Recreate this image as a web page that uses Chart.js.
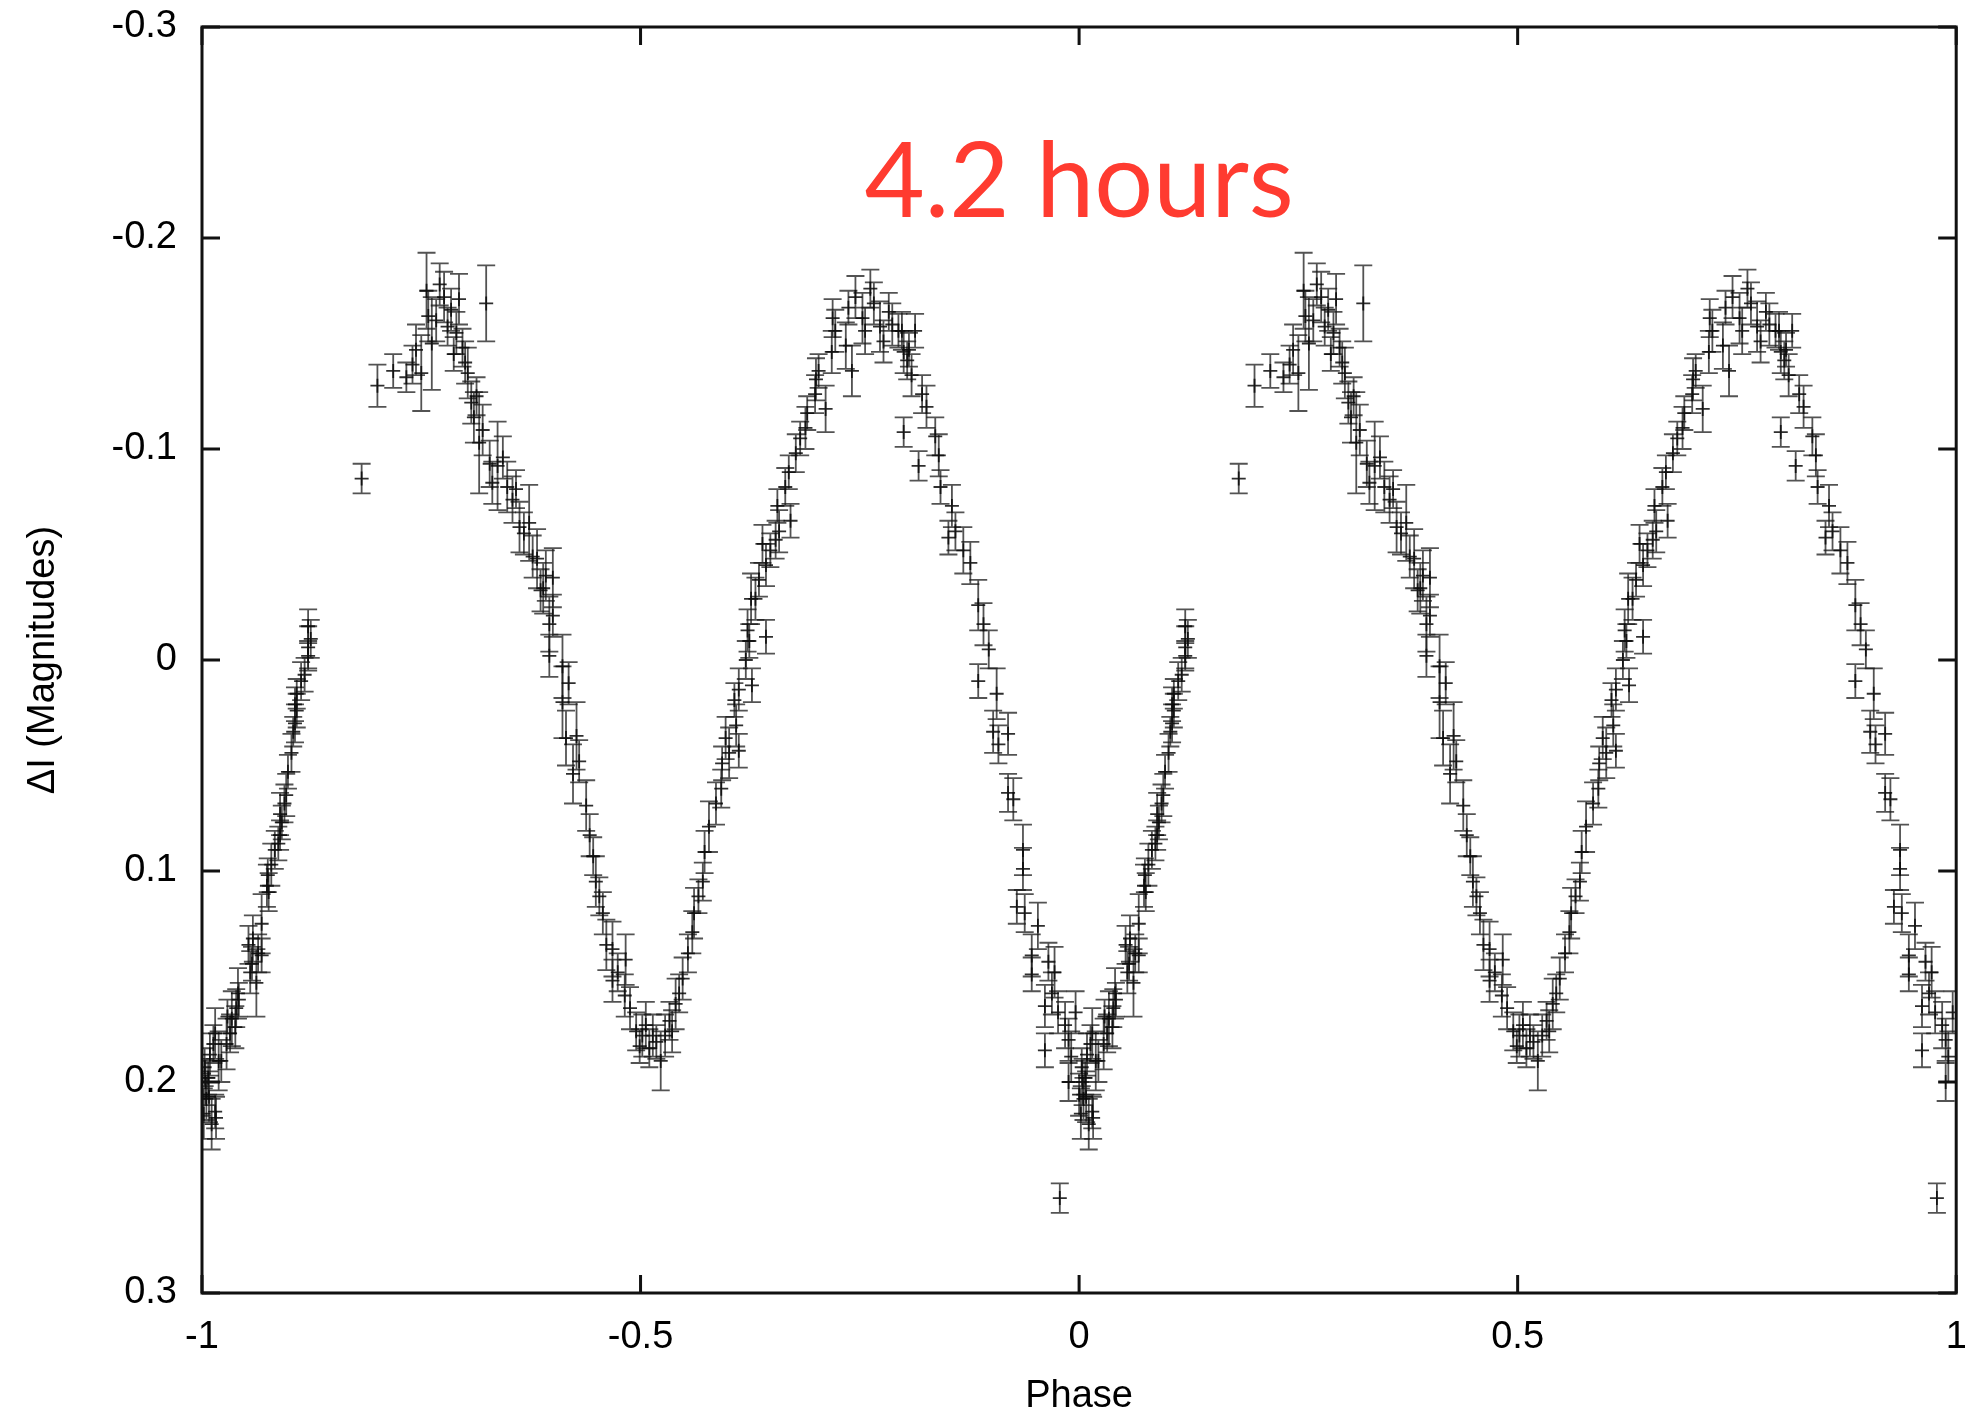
<!DOCTYPE html>
<html>
<head>
<meta charset="utf-8">
<script src="https://cdn.jsdelivr.net/npm/chart.js@4.4.1/dist/chart.umd.min.js"></script>
<style>
  html, body { margin: 0; padding: 0; background: #fff; }
  #wrap { width: 1965px; height: 1414px; }
</style>
</head>
<body>
<div id="wrap"><canvas id="lightcurve"></canvas></div>
<script>
// phased light curve, one cycle (phase 0..1)
const phase = [
  0.000, 0.002, 0.003, 0.004, 0.005, 0.007, 0.008, 0.009, 0.011, 0.013,
  0.015, 0.015, 0.016, 0.019, 0.022, 0.028, 0.029, 0.032, 0.034, 0.038,
  0.039, 0.041, 0.042, 0.053, 0.055, 0.057, 0.058, 0.062, 0.064, 0.068,
  0.068, 0.074, 0.075, 0.076, 0.079, 0.083, 0.087, 0.089, 0.089, 0.091,
  0.094, 0.096, 0.098, 0.102, 0.104, 0.106, 0.106, 0.108, 0.108, 0.113,
  0.117, 0.121, 0.121, 0.121, 0.124, 0.182, 0.200, 0.218, 0.233, 0.240,
  0.244, 0.250, 0.256, 0.258, 0.262, 0.267, 0.271, 0.276, 0.280, 0.284,
  0.287, 0.290, 0.293, 0.297, 0.300, 0.303, 0.307, 0.310, 0.313, 0.316,
  0.320, 0.324, 0.328, 0.331, 0.337, 0.343, 0.348, 0.354, 0.358, 0.362,
  0.367, 0.373, 0.377, 0.382, 0.386, 0.389, 0.392, 0.396, 0.396, 0.400,
  0.400, 0.411, 0.411, 0.415, 0.418, 0.423, 0.427, 0.430, 0.438, 0.442,
  0.446, 0.449, 0.453, 0.457, 0.461, 0.468, 0.468, 0.474, 0.482, 0.483,
  0.488, 0.495, 0.499, 0.502, 0.506, 0.510, 0.514, 0.518, 0.523, 0.528,
  0.533, 0.536, 0.540, 0.544, 0.548, 0.554, 0.559, 0.561, 0.566, 0.571,
  0.573, 0.578, 0.586, 0.592, 0.593, 0.597, 0.601, 0.607, 0.609, 0.612,
  0.612, 0.620, 0.622, 0.624, 0.626, 0.627, 0.631, 0.635, 0.639, 0.643,
  0.643, 0.648, 0.654, 0.656, 0.658, 0.665, 0.669, 0.671, 0.677, 0.682,
  0.688, 0.690, 0.699, 0.700, 0.703, 0.711, 0.718, 0.719, 0.722, 0.734,
  0.737, 0.741, 0.745, 0.753, 0.756, 0.762, 0.766, 0.773, 0.777, 0.783,
  0.787, 0.794, 0.798, 0.800, 0.800, 0.804, 0.806, 0.809, 0.813, 0.817,
  0.821, 0.826, 0.836, 0.840, 0.842, 0.851, 0.855, 0.859, 0.868, 0.876,
  0.885, 0.885, 0.891, 0.897, 0.902, 0.906, 0.908, 0.919, 0.919, 0.925,
  0.929, 0.936, 0.936, 0.938, 0.946, 0.946, 0.953, 0.961, 0.961, 0.965,
  0.969, 0.972, 0.976, 0.978, 0.984, 0.988, 0.988, 0.991, 0.996
];
const deltaI = [
  0.206, 0.215, 0.193, 0.200, 0.208, 0.198, 0.207, 0.187, 0.220, 0.182,
  0.177, 0.214, 0.217, 0.190, 0.190, 0.182, 0.169, 0.177, 0.170, 0.174,
  0.165, 0.158, 0.161, 0.135, 0.148, 0.144, 0.132, 0.153, 0.139, 0.125,
  0.140, 0.107, 0.102, 0.110, 0.097, 0.090, 0.087, 0.073, 0.083, 0.077,
  0.068, 0.064, 0.053, 0.044, 0.034, 0.021, 0.030, 0.016, 0.024, 0.010,
  0.007, -0.006, -0.002, -0.016, -0.010, -0.086, -0.130, -0.137, -0.134, -0.140,
  -0.147, -0.136, -0.175, -0.163, -0.150, -0.161, -0.178, -0.172, -0.158, -0.166,
  -0.145, -0.155, -0.171, -0.148, -0.141, -0.136, -0.122, -0.115, -0.125, -0.103,
  -0.109, -0.169, -0.093, -0.084, -0.092, -0.096, -0.082, -0.076, -0.081, -0.063,
  -0.060, -0.065, -0.049, -0.048, -0.033, -0.034, -0.040, -0.017, -0.002, -0.021,
  -0.039, 0.003, 0.020, 0.037, 0.011, 0.054, 0.036, 0.048, 0.069, 0.083,
  0.093, 0.105, 0.112, 0.120, 0.135, 0.137, 0.152, 0.148, 0.159, 0.142,
  0.165, 0.176, 0.183, 0.178, 0.173, 0.184, 0.178, 0.181, 0.190, 0.178,
  0.171, 0.176, 0.163, 0.158, 0.151, 0.139, 0.129, 0.120, 0.112, 0.105,
  0.091, 0.079, 0.068, 0.061, 0.049, 0.037, 0.044, 0.019, 0.031, 0.043,
  0.014, 0.000, -0.014, -0.009, -0.029, 0.012, -0.029, -0.038, -0.055, -0.011,
  -0.045, -0.052, -0.057, -0.073, -0.061, -0.082, -0.089, -0.066, -0.098, -0.105,
  -0.110, -0.117, -0.126, -0.133, -0.137, -0.119, -0.146, -0.162, -0.156, -0.149,
  -0.167, -0.137, -0.172, -0.162, -0.156, -0.176, -0.169, -0.158, -0.151, -0.165,
  -0.159, -0.156, -0.156, -0.146, -0.108, -0.142, -0.147, -0.135, -0.156, -0.092,
  -0.126, -0.120, -0.106, -0.097, -0.082, -0.058, -0.073, -0.061, -0.052, -0.046,
  -0.026, 0.010, -0.017, -0.005, 0.034, 0.016, 0.040, 0.035, 0.063, 0.066,
  0.117, 0.090, 0.099, 0.120, 0.140, 0.149, 0.126, 0.164, 0.185, 0.143,
  0.158, 0.148, 0.167, 0.255, 0.173, 0.180, 0.200, 0.188, 0.167
];
const sigma = [
  0.010, 0.012, 0.009, 0.011, 0.010, 0.008, 0.012, 0.010, 0.012, 0.009,
  0.012, 0.008, 0.010, 0.014, 0.010, 0.012, 0.008, 0.009, 0.013, 0.010,
  0.009, 0.012, 0.008, 0.009, 0.010, 0.008, 0.011, 0.016, 0.009, 0.014,
  0.008, 0.010, 0.008, 0.009, 0.010, 0.009, 0.008, 0.010, 0.007, 0.008,
  0.009, 0.010, 0.008, 0.009, 0.007, 0.008, 0.009, 0.007, 0.008, 0.009,
  0.008, 0.010, 0.007, 0.008, 0.009, 0.007, 0.010, 0.008, 0.007, 0.009,
  0.012, 0.018, 0.018, 0.012, 0.022, 0.010, 0.010, 0.012, 0.009, 0.010,
  0.008, 0.010, 0.012, 0.009, 0.010, 0.012, 0.010, 0.012, 0.009, 0.024,
  0.012, 0.018, 0.011, 0.010, 0.021, 0.010, 0.012, 0.011, 0.009, 0.012,
  0.010, 0.018, 0.010, 0.014, 0.010, 0.012, 0.012, 0.013, 0.010, 0.010,
  0.014, 0.015, 0.017, 0.013, 0.010, 0.014, 0.016, 0.010, 0.012, 0.010,
  0.009, 0.012, 0.009, 0.010, 0.012, 0.013, 0.010, 0.009, 0.010, 0.012,
  0.010, 0.009, 0.008, 0.010, 0.011, 0.009, 0.010, 0.008, 0.014, 0.010,
  0.009, 0.010, 0.012, 0.009, 0.010, 0.009, 0.010, 0.012, 0.008, 0.009,
  0.010, 0.012, 0.010, 0.009, 0.008, 0.010, 0.012, 0.008, 0.010, 0.008,
  0.010, 0.009, 0.010, 0.008, 0.012, 0.008, 0.010, 0.008, 0.009, 0.008,
  0.010, 0.008, 0.009, 0.008, 0.010, 0.009, 0.008, 0.008, 0.009, 0.008,
  0.010, 0.008, 0.009, 0.010, 0.008, 0.011, 0.010, 0.009, 0.010, 0.011,
  0.008, 0.012, 0.010, 0.012, 0.011, 0.009, 0.010, 0.012, 0.010, 0.009,
  0.010, 0.008, 0.009, 0.010, 0.007, 0.009, 0.008, 0.010, 0.008, 0.007,
  0.009, 0.010, 0.009, 0.010, 0.008, 0.008, 0.010, 0.009, 0.011, 0.010,
  0.012, 0.008, 0.010, 0.009, 0.010, 0.012, 0.009, 0.010, 0.009, 0.010,
  0.008, 0.012, 0.010, 0.009, 0.010, 0.008, 0.011, 0.010, 0.008, 0.009,
  0.010, 0.012, 0.010, 0.007, 0.011, 0.010, 0.009, 0.012, 0.010
];

const xTickLabels = ['-1', '-0.5', '0', '0.5', '1'];
const yTickLabels = ['-0.3', '-0.2', '-0.1', '0', '0.1', '0.2', '0.3'];
const periodLabel = '4.2 hours';

const axisFont = { family: "'Liberation Sans', Arial, Helvetica, sans-serif", size: 38 };

// the folded data is shown twice, over [-1, 0) and [0, 1)
const points = [];
for (let i = 0; i < phase.length; i++) {
  points.push({ x: phase[i] - 1, y: deltaI[i], err: sigma[i] });
  points.push({ x: phase[i], y: deltaI[i], err: sigma[i] });
}

const errorBars = {
  id: 'errorBars',
  beforeDatasetsDraw(chart) {
    const ctx = chart.ctx;
    const yScale = chart.scales.y;
    const area = chart.chartArea;
    const meta = chart.getDatasetMeta(0);
    ctx.save();
    ctx.beginPath();
    ctx.rect(area.left, area.top, area.right - area.left, area.bottom - area.top);
    ctx.clip();
    ctx.strokeStyle = 'rgba(25, 25, 25, 0.75)';
    ctx.lineWidth = 1.8;
    meta.data.forEach((el, i) => {
      const p = points[i];
      const top = yScale.getPixelForValue(p.y - p.err);
      const bot = yScale.getPixelForValue(p.y + p.err);
      ctx.beginPath();
      ctx.moveTo(el.x, top);
      ctx.lineTo(el.x, bot);
      ctx.moveTo(el.x - 9, top);
      ctx.lineTo(el.x + 9, top);
      ctx.moveTo(el.x - 9, bot);
      ctx.lineTo(el.x + 9, bot);
      ctx.stroke();
    });
    ctx.restore();
  }
};

// box around the plot with inward ticks, and the period label
const frame = {
  id: 'frame',
  afterDraw(chart) {
    const { ctx, chartArea: a } = chart;
    const x = chart.scales.x, y = chart.scales.y;
    ctx.save();
    ctx.strokeStyle = '#111';
    ctx.lineWidth = 3;
    ctx.strokeRect(a.left, a.top, a.right - a.left, a.bottom - a.top);
    ctx.beginPath();
    x.ticks.forEach(t => {
      const px = x.getPixelForValue(t.value);
      ctx.moveTo(px, a.bottom);
      ctx.lineTo(px, a.bottom - 18);
      ctx.moveTo(px, a.top);
      ctx.lineTo(px, a.top + 18);
    });
    y.ticks.forEach(t => {
      const py = y.getPixelForValue(t.value);
      ctx.moveTo(a.left, py);
      ctx.lineTo(a.left + 18, py);
      ctx.moveTo(a.right, py);
      ctx.lineTo(a.right - 18, py);
    });
    ctx.stroke();

    ctx.fillStyle = 'rgb(255, 59, 48)';
    ctx.font = '104px Lato, "Open Sans", sans-serif';
    ctx.textAlign = 'center';
    ctx.textBaseline = 'alphabetic';
    ctx.fillText(periodLabel, x.getPixelForValue(0), y.getPixelForValue(-0.21));
    ctx.restore();
  }
};

new Chart(document.getElementById('lightcurve'), {
  type: 'scatter',
  data: {
    datasets: [{
      data: points,
      pointStyle: 'cross',
      pointRadius: 7,
      pointHoverRadius: 7,
      borderColor: 'rgba(10, 10, 10, 0.85)',
      borderWidth: 1.8
    }]
  },
  options: {
    responsive: true,
    maintainAspectRatio: false,
    animation: false,
    layout: { padding: { top: 27, right: 4, left: 0, bottom: 0 } },
    plugins: {
      legend: { display: false },
      tooltip: { enabled: false }
    },
    scales: {
      x: {
        type: 'linear',
        min: -1,
        max: 1,
        grid: { display: false, drawTicks: false },
        border: { display: false },
        ticks: {
          stepSize: 0.5,
          padding: 22,
          maxRotation: 0,
          color: '#000',
          font: axisFont,
          callback: v => xTickLabels[Math.round((v + 1) * 2)]
        },
        title: { display: true, text: 'Phase', color: '#000', font: axisFont, padding: { top: 0, bottom: -5 } },
        afterFit(s) { s.height = 121; s.paddingLeft = 0; s.paddingRight = 0; }
      },
      y: {
        type: 'linear',
        min: -0.3,
        max: 0.3,
        reverse: true,
        grid: { display: false, drawTicks: false },
        border: { display: false },
        ticks: {
          stepSize: 0.1,
          padding: 25,
          color: '#000',
          font: axisFont,
          callback: v => yTickLabels[Math.round((v + 0.3) * 10)]
        },
        title: { display: true, text: 'ΔI (Magnitudes)', color: '#000', font: axisFont, padding: { top: 21, bottom: 0 } },
        afterFit(s) { s.width = 202; s.paddingTop = 0; s.paddingBottom = 0; }
      }
    }
  },
  plugins: [errorBars, frame]
});
</script>
</body>
</html>
